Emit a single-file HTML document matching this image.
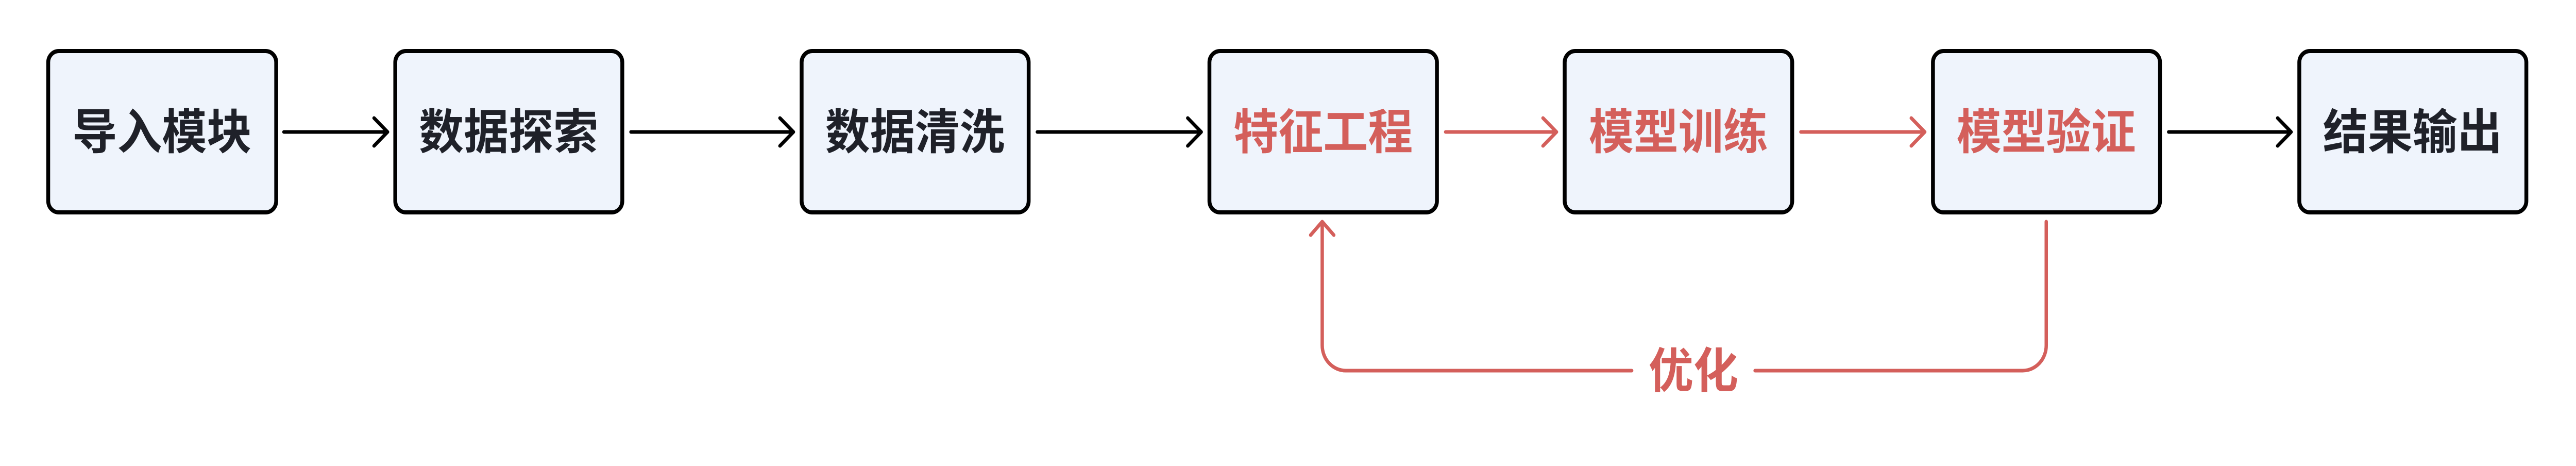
<!DOCTYPE html>
<html><head><meta charset="utf-8"><style>
html,body{margin:0;padding:0;background:#fff;width:100%;height:100%;overflow:hidden;}
svg{display:block;width:100vw;height:100vh;}
text{font-family:"Liberation Sans","Noto Sans CJK SC",sans-serif;font-weight:700;font-size:93px;}
</style></head><body>
<svg viewBox="0 0 5344 904" preserveAspectRatio="none" xmlns="http://www.w3.org/2000/svg">
<g fill="#eff4fc" stroke="#000" stroke-width="8">
<rect x="100" y="99" width="473" height="313" rx="22"/>
<rect x="820" y="99" width="471" height="313" rx="22"/>
<rect x="1663" y="99" width="471" height="313" rx="22"/>
<rect x="2509" y="99" width="472" height="313" rx="22"/>
<rect x="3246" y="99" width="472" height="313" rx="22"/>
<rect x="4010" y="99" width="471" height="313" rx="22"/>
<rect x="4770" y="99" width="471" height="313" rx="22"/>
</g>
<g fill="none" stroke-width="7" stroke-linecap="round" stroke-linejoin="round">
<g stroke="#000">
<path d="M589 256H804M776 229L804 256L776 283"/>
<path d="M1309 256H1646M1618 229L1646 256L1618 283"/>
<path d="M2152 256H2492M2464 229L2492 256L2464 283"/>
<path d="M4499 256H4753M4725 229L4753 256L4725 283"/>
</g>
<g stroke="#d45f5b">
<path d="M2999 256H3229M3201 229L3229 256L3201 283"/>
<path d="M3736 256H3993M3965 229L3993 256L3965 283"/>
<path d="M4245 430V670A49 49 0 0 1 4196 719H3641"/>
<path d="M3385 719H2792A49 49 0 0 1 2743 670V430M2719 456L2743 430L2767 456"/>
</g>
</g>
<g text-anchor="middle" fill="#1f2129">
<text x="336" y="289">导入模块</text>
<text x="1055" y="289">数据探索</text>
<text x="1898" y="289">数据清洗</text>
<text x="5005" y="289">结果输出</text>
</g>
<g text-anchor="middle" fill="#d45f5b">
<text x="2745" y="289">特征工程</text>
<text x="3482" y="289">模型训练</text>
<text x="4245" y="289">模型验证</text>
<text x="3513" y="752">优化</text>
</g>
</svg>
</body></html>
